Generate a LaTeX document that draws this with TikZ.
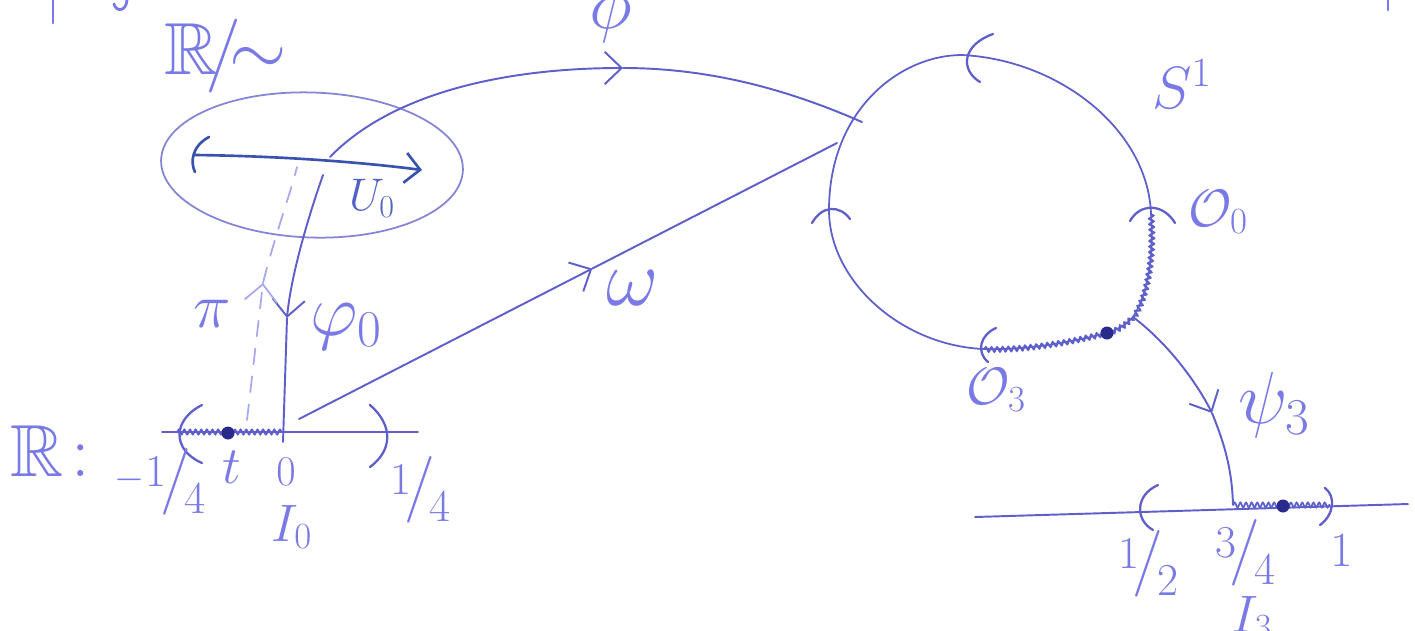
\documentclass[tikz,border=0pt]{standalone}
\usepackage{fix-cm}
\usepackage{amssymb}
\usetikzlibrary{arrows.meta,decorations.pathmorphing,calc,shapes.geometric}
\definecolor{textc}{HTML}{7A7AE6}
\definecolor{linec}{HTML}{5F5FCB}
\definecolor{lightc}{HTML}{A8A8EC}
\definecolor{ellc}{HTML}{8585D6}
\definecolor{darkc}{HTML}{3852AE}
\definecolor{dotc}{HTML}{2A2A8C}
\newcommand{\myfrac}[2]{{\fontsize{26}{28}\selectfont\raisebox{.6ex}{#1}}\kern-.12em{\fontsize{38}{40}\selectfont/}\kern-.12em{\fontsize{26}{28}\selectfont\raisebox{-.75ex}{#2}}}
\begin{document}
\begin{tikzpicture}[x=0.02cm,y=-0.02cm,
  ink/.style={draw=linec, line width=1.1pt, line cap=round},
  faint/.style={draw=lightc, line width=1pt, line cap=round},
  brk/.style={draw=linec, line width=1.3pt, line cap=round},
  wavy/.style={draw=linec, line width=1pt, decorate,
    decoration={snake, amplitude=1.4pt, segment length=3.2pt}},
  lab/.style={text=textc, font=\fontsize{30}{34}\selectfont, inner sep=0pt},
  smlab/.style={text=textc, font=\fontsize{24}{26}\selectfont, inner sep=0pt},
  glab/.style={text=textc, font=\fontsize{42}{46}\selectfont, inner sep=0pt},
  biglab/.style={text=textc, font=\fontsize{42}{46}\selectfont, inner sep=0pt},
  tipb/.style={-{Straight Barb[length=3.4mm,width=6.5mm]}},
  ptdot/.style={fill=dotc}
]
\fill[white] (0,0) rectangle (1415,630);
\useasboundingbox (0,0) rectangle (1415,630);

% fragments of text cut off at the top
\draw[textc, line width=1.6pt, line cap=round] (53,0) -- (53,23);
\draw[textc, line width=1.6pt, line cap=round] (127,0) .. controls (126,12) and (116,12) .. (114,4);
\draw[textc, line width=1.6pt, line cap=round] (1388,0) -- (1388,10);

% ---------- quotient R/~ ----------
\node[biglab] (quotlab) at (226,56) {$\mathbb{R}\!/\!{\sim}$};
\node[draw=ellc, line width=1pt, ellipse, minimum width=302*0.02cm, minimum height=145*0.02cm, inner sep=0pt, rotate=-2] (quot) at (312,165) {};
\coordinate (uL) at (195,155);
\coordinate (uR) at (422,170);
\draw[darkc, line width=1.5pt, line cap=round, -{Straight Barb[length=3mm,width=6mm]}] (uL) .. controls (280,156) and (360,162) .. (uR);
\draw[darkc, line width=1.5pt, line cap=round] (209,137) .. controls (192,146) and (190,162) .. (195,172);
\node[lab, font=\fontsize{26}{30}\selectfont, text=darkc!60!textc] (U0) at (372,198) {$U_0$};

% ---------- circle S^1 ----------
\coordinate (cTop) at (962,55);
\coordinate (cR) at (1151,214);
\coordinate (cPsi) at (1133,317);
\coordinate (cDot) at (1107,333);
\coordinate (cB) at (983,349);
\coordinate (cL) at (829,210);
\coordinate (cPhi) at (862,122);
\coordinate (cOm) at (837,143);
\draw[ink, line width=1pt] (cTop) .. controls (1060,60) and (1148,130) .. (cR)
  .. controls (1154,255) and (1148,295) .. (cPsi)
  .. controls (1125,326) and (1116,330) .. (cDot)
  .. controls (1060,345) and (1020,350) .. (cB)
  .. controls (900,345) and (829,280) .. (cL)
  .. controls (829,110) and (900,55) .. (cTop);
\node[lab, font=\fontsize{34}{38}\selectfont] (S1) at (1182,84) {$S^{1}$};
% brackets on the circle
\draw[brk] (993,34) .. controls (962,45) and (960,70) .. (980,82);
\draw[brk] (812,223) .. controls (822,205) and (840,205) .. (850,219);
\draw[brk] (1130,221) .. controls (1140,203) and (1163,203) .. (1175,223);
\draw[brk] (996,328) .. controls (980,335) and (976,352) .. (988,362);
% wavy arc O_0 ... O_3
\draw[wavy] (cR) .. controls (1154,255) and (1148,295) .. (cPsi);
\draw[wavy] (cPsi) .. controls (1125,326) and (1116,330) .. (cDot);
\draw[wavy] (cDot) .. controls (1060,345) and (1020,350) .. (cB);
\fill[ptdot] (cDot) circle [radius=6.5];
\node[lab] (O0) at (1218,212) {$\mathcal{O}_0$};
\node[lab] (O3) at (996,390) {$\mathcal{O}_3$};

% ---------- left real line ----------
\node[biglab] (Rlab) at (50,451) {$\mathbb{R}$\kern.1em:};
\coordinate (aL) at (162,432);
\coordinate (aR) at (418,432);
\coordinate (a0) at (283,432);
\coordinate (aw) at (177,432);
\coordinate (at) at (228,433);
\draw[ink] (aL) -- (aR);
\draw[wavy] (aw) -- (a0);
\fill[ptdot] (at) circle [radius=6.5];
\draw[brk] (202,405) .. controls (172,420) and (172,450) .. (202,463);
\draw[brk] (370,405) .. controls (393,425) and (393,450) .. (370,467);
\node[lab, anchor=west] (m14) at (114,482) {{\fontsize{22}{24}\selectfont\raisebox{.55ex}{$-$}}\kern.02em\myfrac{1}{4}};
\node[lab] (tlab) at (232,467) {$t$};
\node[smlab] (zlab) at (286,472) {$0$};
\node[lab] (p14) at (420,490) {\myfrac{1}{4}};
\node[lab] (I0) at (292,527) {$I_0$};

% phi_0 (down) and pi (dashed, up)
\coordinate (f0s) at (323,175);
\coordinate (f0m) at (287,318);
\coordinate (f0e) at (283,442);
\draw[ink, tipb] (f0s) .. controls (302,235) and (290,285) .. (f0m);
\draw[ink] (f0m) -- (f0e);
\node[glab] (phi0) at (346,327) {$\varphi_0$};
\coordinate (pis) at (247,420);
\coordinate (pim) at (263,283);
\coordinate (pie) at (297,167);
\draw[faint, dash pattern=on 9pt off 7pt, tipb] (pis) -- (pim);
\draw[faint, dash pattern=on 9pt off 7pt] (pim) .. controls (275,235) and (290,195) .. (pie);
\node[lab, font=\fontsize{36}{40}\selectfont] (pilab) at (212,314) {$\pi$};

% phi : R/~ -> S^1
\coordinate (phS) at (330,157);
\coordinate (phM) at (623,68);
\draw[ink, tipb] (phS) .. controls (390,95) and (500,68) .. (phM);
\draw[ink] (phM) .. controls (720,68) and (800,95) .. (cPhi);
\node[glab, anchor=base] (philab) at (611,28) {$\phi$};

% omega : R -> S^1
\coordinate (omS) at (299,419);
\coordinate (omM) at ($(omS)!0.545!(cOm)$);
\draw[ink, tipb] (omS) -- (omM);
\draw[ink] (omM) -- (cOm);
\node[glab, font=\fontsize{46}{50}\selectfont] (omlab) at (633,288) {$\omega$};

% ---------- right real line ----------
\coordinate (bL) at (975,517);
\coordinate (bR) at (1408,504);
\coordinate (b34) at (1233,505);
\coordinate (b1) at (1330,505);
\coordinate (bdot) at (1283,506);
\draw[ink] (bL) -- (bR);
\draw[wavy] (b34) -- (b1);
\fill[ptdot] (bdot) circle [radius=6.5];
\draw[brk] (1158,485) .. controls (1135,495) and (1135,520) .. (1153,530);
\draw[brk] (1325,488) .. controls (1336,496) and (1334,515) .. (1320,525);
\node[lab] (h12) at (1148,564) {\myfrac{1}{2}};
\node[lab] (h34) at (1245,553) {\myfrac{3}{4}};
\node[smlab, font=\fontsize{28}{30}\selectfont] (one) at (1342,551) {$1$};
\node[lab] (I3) at (1252,618) {$I_3$};

% psi_3 : O_3 -> R
\coordinate (psM) at (1212,413);
\draw[ink, tipb] (cPsi) .. controls (1170,345) and (1198,385) .. (psM);
\draw[ink] (psM) .. controls (1225,445) and (1232,470) .. (b34);
\node[glab] (psilab) at (1274,405) {$\psi_3$};
\end{tikzpicture}
\end{document}
